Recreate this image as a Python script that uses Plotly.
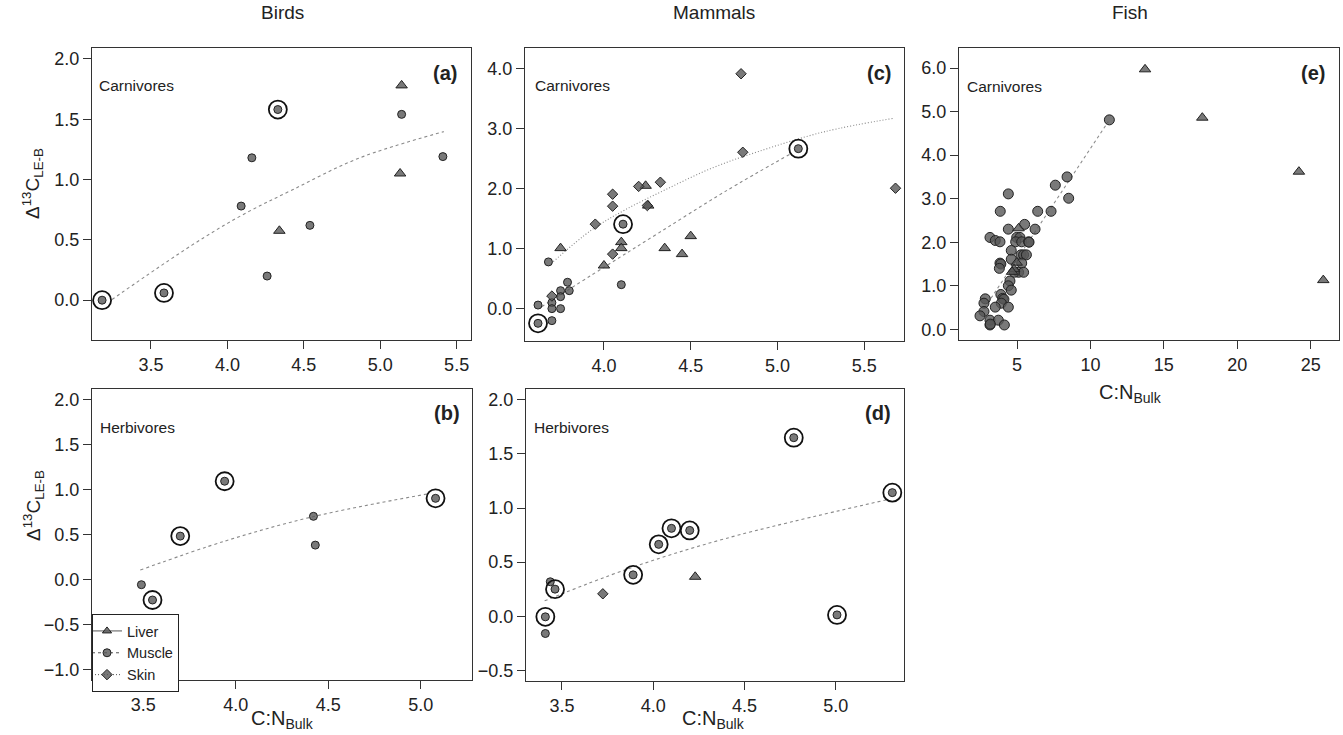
import plotly.graph_objects as go

W, H = 1343, 735
FONT = "Liberation Sans"
FILL = "rgba(88,88,88,0.8)"
EDGE = "#222222"
FITC = "#8a8a8a"

# ---------------- data ----------------
# (a) Birds carnivores
a_liver_x = [5.14, 5.13, 4.34]
a_liver_y = [1.78, 1.05, 0.575]
a_muscle_x = [5.14, 5.41, 4.33, 4.16, 4.09, 4.54, 4.26, 3.18, 3.585]
a_muscle_y = [1.54, 1.19, 1.58, 1.18, 0.78, 0.62, 0.20, 0.0, 0.06]
a_muscle_ring = [0, 0, 1, 0, 0, 0, 0, 1, 1]
a_fit_x = [3.245, 3.768, 4.096, 4.423, 4.859, 5.416]
a_fit_y = [0.006, 0.456, 0.705, 0.913, 1.176, 1.397]

# (c) Mammals carnivores
c_skin_x = [4.79, 4.80, 5.68, 4.325, 4.20, 4.05, 4.05, 3.95, 4.05, 3.70, 4.25]
c_skin_y = [3.92, 2.61, 2.01, 2.11, 2.04, 1.91, 1.71, 1.41, 0.91, 0.21, 1.72]
c_liver_x = [4.24, 4.255, 3.75, 4.10, 4.10, 4.00, 4.35, 4.45, 4.50]
c_liver_y = [2.05, 1.72, 1.01, 1.11, 1.01, 0.72, 1.01, 0.91, 1.21]
c_muscle_x = [5.12, 4.11, 3.68, 4.10, 3.79, 3.80, 3.75, 3.75, 3.75, 3.70, 3.70, 3.70, 3.62, 3.62]
c_muscle_y = [2.67, 1.41, 0.78, 0.40, 0.44, 0.30, 0.30, 0.20, 0.0, 0.10, 0.0, -0.20, 0.06, -0.245]
c_muscle_ring = [1, 1, 0, 0, 0, 0, 0, 0, 0, 0, 0, 0, 0, 1]
c_skinfit_x = [3.708, 3.929, 4.121, 4.352, 4.621, 4.889, 5.274, 5.673]
c_skinfit_y = [0.785, 1.314, 1.648, 1.982, 2.344, 2.621, 2.955, 3.179]
c_musclefit_x = [3.641, 4.006, 4.313, 4.697, 5.082]
c_musclefit_y = [0.033, 0.701, 1.259, 1.953, 2.594]

# (e) Fish carnivores
e_liver_x = [13.72, 17.62, 24.2, 25.86, 5.11, 4.98, 4.8, 4.66]
e_liver_y = [5.97, 4.86, 3.62, 1.13, 2.32, 1.53, 1.38, 1.32]
e_muscle_x = [11.29, 8.41, 7.61, 8.52, 4.41, 3.86, 6.41, 7.32, 5.52, 4.41, 6.23,
              3.16, 3.52, 3.84, 4.98, 5.2, 4.91, 5.32, 5.79, 5.82, 4.61, 5.27,
              5.45, 5.64, 4.61, 5.32, 3.84, 3.9, 3.8, 5.11, 5.45, 4.82, 4.52,
              4.41, 4.61, 3.9, 4.02, 4.11, 3.93, 2.84, 2.75, 2.75, 3.52, 4.41,
              2.48, 3.16, 3.73, 3.16, 4.14, 3.18]
e_muscle_y = [4.81, 3.50, 3.31, 3.01, 3.11, 2.71, 2.71, 2.71, 2.41, 2.30, 2.30,
              2.11, 2.04, 2.01, 2.11, 2.11, 2.01, 2.01, 2.01, 2.00, 1.81, 1.71,
              1.71, 1.71, 1.61, 1.52, 1.52, 1.50, 1.40, 1.31, 1.31, 1.31, 1.11,
              1.00, 0.90, 0.80, 0.71, 0.69, 0.60, 0.70, 0.60, 0.41, 0.51, 0.51,
              0.31, 0.21, 0.21, 0.10, 0.10, 0.12]
e_fit_x = [2.55, 11.22]
e_fit_y = [0.37, 4.77]

# (b) Birds herbivores
b_muscle_x = [3.94, 3.70, 5.08, 4.42, 4.43, 3.49, 3.55]
b_muscle_y = [1.09, 0.48, 0.90, 0.70, 0.38, -0.06, -0.23]
b_muscle_ring = [1, 1, 1, 0, 0, 0, 1]
b_fit_x = [3.484, 3.943, 4.418, 5.034]
b_fit_y = [0.103, 0.426, 0.696, 0.948]

# (d) Mammals herbivores
d_muscle_x = [4.77, 5.31, 4.10, 4.20, 4.03, 3.89, 3.436, 3.462, 3.409, 3.409, 5.007]
d_muscle_y = [1.65, 1.142, 0.812, 0.793, 0.664, 0.382, 0.318, 0.25, -0.006, -0.16, 0.012]
d_muscle_ring = [1, 1, 1, 1, 1, 1, 0, 1, 1, 0, 1]
d_liver_x = [4.23]
d_liver_y = [0.364]
d_skin_x = [3.724]
d_skin_y = [0.207]
d_fit_x = [3.405, 3.852, 4.399, 5.275]
d_fit_y = [0.142, 0.432, 0.719, 1.074]

# ---------------- layout helpers ----------------
def dom_x(l, r):
    return [l / W, r / W]

def dom_y(t, b):
    return [1 - b / H, 1 - t / H]

fig = go.Figure()

def fit(xs, ys, ax, dash):
    fig.add_trace(go.Scatter(x=xs, y=ys, mode="lines", xaxis=ax[0], yaxis=ax[1],
                             line=dict(color=FITC, width=1.1, dash=dash, shape="spline"),
                             showlegend=False, hoverinfo="skip"))

def pts(xs, ys, ax, symbol, size):
    fig.add_trace(go.Scatter(x=xs, y=ys, mode="markers", xaxis=ax[0], yaxis=ax[1],
                             marker=dict(symbol=symbol, size=size, color=FILL,
                                         line=dict(color=EDGE, width=1)),
                             showlegend=False))

def rings(xs, ys, flags, ax):
    rx = [x for x, f in zip(xs, flags) if f]
    ry = [y for y, f in zip(ys, flags) if f]
    fig.add_trace(go.Scatter(x=rx, y=ry, mode="markers", xaxis=ax[0], yaxis=ax[1],
                             marker=dict(symbol="circle-open", size=18, color="#111111",
                                         line=dict(color="#111111", width=1.8)),
                             showlegend=False))

A = ("x", "y"); C = ("x2", "y2"); E = ("x3", "y3"); B = ("x4", "y4"); D = ("x5", "y5")
DASH = "3px,3px"
DOT = "1px,2px"

# (a)
fit(a_fit_x, a_fit_y, A, DASH)
pts(a_muscle_x, a_muscle_y, A, "circle", 8)
pts(a_liver_x, a_liver_y, A, "triangle-up", 10)
rings(a_muscle_x, a_muscle_y, a_muscle_ring, A)
# (c)
fit(c_skinfit_x, c_skinfit_y, C, DOT)
fit(c_musclefit_x, c_musclefit_y, C, DASH)
pts(c_muscle_x, c_muscle_y, C, "circle", 8)
pts(c_liver_x, c_liver_y, C, "triangle-up", 10)
pts(c_skin_x, c_skin_y, C, "diamond", 8)
rings(c_muscle_x, c_muscle_y, c_muscle_ring, C)
# (e)
fit(e_fit_x, e_fit_y, E, DASH)
pts(e_muscle_x, e_muscle_y, E, "circle", 10)
pts(e_liver_x, e_liver_y, E, "triangle-up", 10)
# (b)
fit(b_fit_x, b_fit_y, B, DASH)
pts(b_muscle_x, b_muscle_y, B, "circle", 8)
rings(b_muscle_x, b_muscle_y, b_muscle_ring, B)
# (d)
fit(d_fit_x, d_fit_y, D, DASH)
pts(d_muscle_x, d_muscle_y, D, "circle", 8)
pts(d_liver_x, d_liver_y, D, "triangle-up", 10)
pts(d_skin_x, d_skin_y, D, "diamond", 8)
rings(d_muscle_x, d_muscle_y, d_muscle_ring, D)

# legend entries
legend_names = ["Liver", "Muscle", "Skin"]
legend_symbols = ["triangle-up", "circle", "diamond"]
legend_dashes = ["solid", DASH, DOT]
for nm, sy, ds in zip(legend_names, legend_symbols, legend_dashes):
    fig.add_trace(go.Scatter(x=[None], y=[None], mode="lines+markers", name=nm,
                             xaxis="x4", yaxis="y4",
                             line=dict(color="#555555", width=1, dash=ds),
                             marker=dict(symbol=sy, size=8, color=FILL,
                                         line=dict(color=EDGE, width=1))))

TICKF = dict(family=FONT, size=18, color="#222222")

def xax(l, r, rng, dtick, fmt, anchor):
    return dict(domain=dom_x(l, r), range=rng, dtick=dtick, tickformat=fmt, anchor=anchor,
                showgrid=False, zeroline=False, showline=True, mirror=True,
                linecolor="#333333", linewidth=1.2, ticks="outside", ticklen=8,
                tickcolor="#333333", tickfont=TICKF)

def yax(t, b, rng, dtick, fmt, anchor):
    return dict(domain=dom_y(t, b), range=rng, dtick=dtick, tickformat=fmt, anchor=anchor,
                showgrid=False, zeroline=False, showline=True, mirror=True,
                linecolor="#333333", linewidth=1.2, ticks="outside", ticklen=8,
                tickcolor="#333333", tickfont=TICKF)

layout = dict(
    width=W, height=H, margin=dict(l=0, r=0, t=0, b=0),
    paper_bgcolor="white", plot_bgcolor="white",
    font=dict(family=FONT, color="#222222"),
    xaxis=xax(92, 471, [3.114, 5.594], 0.5, ".1f", "y"),
    yaxis=yax(48, 340, [-0.33, 2.09], 0.5, ".1f", "x"),
    xaxis2=xax(525, 904, [3.545, 5.729], 0.5, ".1f", "y2"),
    yaxis2=yax(48, 341, [-0.54, 4.35], 1, ".1f", "x2"),
    xaxis3=xax(959, 1339, [1.05, 26.93], 5, "d", "y3"),
    yaxis3=yax(48, 340, [-0.245, 6.46], 1, ".1f", "x3"),
    xaxis4=xax(92, 472, [3.223, 5.277], 0.5, ".1f", "y4"),
    yaxis4=yax(389, 680, [-1.119, 2.115], 0.5, ".1f", "x4"),
    xaxis5=xax(526, 904, [3.303, 5.374], 0.5, ".1f", "y5"),
    yaxis5=yax(389, 681, [-0.599, 2.10], 0.5, ".1f", "x5"),
    legend=dict(x=92 / W, y=1 - 614 / H, xanchor="left", yanchor="top",
                bgcolor="white", bordercolor="#222222", borderwidth=1,
                font=dict(family=FONT, size=14.5, color="#222222"),
                tracegroupgap=0, itemwidth=30, indentation=-6),
    showlegend=True,
)
fig.update_layout(**layout)

def ann(text, px, py, size, xanchor="center", bold=False, angle=0):
    fig.add_annotation(text=f"<b>{text}</b>" if bold else text, x=px / W, y=1 - py / H,
                       xref="paper", yref="paper", xanchor=xanchor, yanchor="middle",
                       showarrow=False, textangle=angle,
                       font=dict(family=FONT, size=size, color="#222222"))

ann("Birds", 282, 13, 19)
ann("Mammals", 714, 13, 19)
ann("Fish", 1130, 13, 19)
for t, x, y in [("Carnivores", 97, 85), ("Carnivores", 533, 85), ("Carnivores", 965, 86),
                ("Herbivores", 98, 427), ("Herbivores", 532, 427)]:
    ann(t, x, y, 15.5, xanchor="left")
for t, x, y in [("(a)", 459, 73), ("(c)", 893, 73), ("(e)", 1327, 73),
                ("(b)", 462, 413), ("(d)", 893, 413)]:
    ann(t, x, y, 20, xanchor="right", bold=True)
ylab = "Δ<sup>13</sup>C<sub>LE-B</sub>"
ann(ylab, 33, 184, 19, angle=-90)
ann(ylab, 33, 506, 19, angle=-90)
xlab = "C:N<sub>Bulk</sub>"
ann(xlab, 282, 719, 20)
ann(xlab, 714, 719, 20)
ann(xlab, 1130, 393, 20)

fig.write_html("out.html")
